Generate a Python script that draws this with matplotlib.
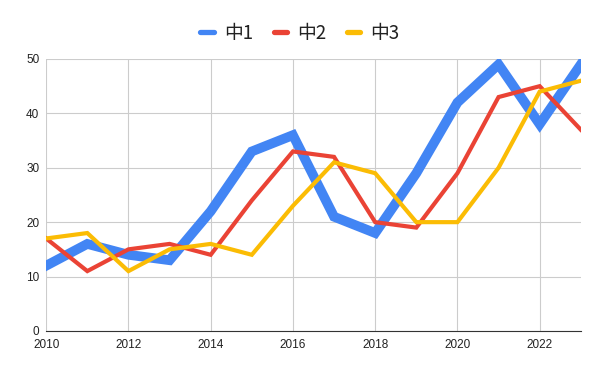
import matplotlib
matplotlib.use('Agg')
import matplotlib.pyplot as plt

plt.rcParams['font.family'] = ['Noto Sans CJK SC', 'DejaVu Sans']

years = list(range(2010, 2024))
s1 = [12, 16, 14, 13, 22, 33, 36, 21, 18, 29, 42, 49, 38, 49]
s2 = [17, 11, 15, 16, 14, 24, 33, 32, 20, 19, 29, 43, 45, 37]
s3 = [17, 18, 11, 15, 16, 14, 23, 31, 29, 20, 20, 30, 44, 46]
labels = ['中1', '中2', '中3']
colors = ['#4285F4', '#EA4335', '#FBBC04']
widths = [7, 3, 3]

fig = plt.figure(figsize=(6, 3.71), dpi=100)
ax = fig.add_axes([0.077, 0.108, 0.891, 0.733])

for ys, lab, c, w in zip([s1, s2, s3], labels, colors, widths):
    ax.plot(years, ys, color=c, lw=w, label=lab, solid_joinstyle='miter')

ax.set_xlim(2010, 2023)
ax.set_ylim(0, 50)
ax.set_xticks(range(2010, 2024, 2))
ax.set_yticks(range(0, 51, 10))
ax.grid(True, color='#cccccc', lw=0.8)
ax.set_axisbelow(True)
for s in ['top', 'right', 'left']:
    ax.spines[s].set_visible(False)
ax.spines['bottom'].set_color('#333333')
ax.tick_params(length=0, labelsize=8.5, colors='#222222')
ax.tick_params(axis='x', pad=6)
ax.tick_params(axis='y', pad=5)
for t in ax.get_xticklabels() + ax.get_yticklabels():
    t.set_family(['Liberation Sans', 'DejaVu Sans'])

leg = fig.legend(loc='center', bbox_to_anchor=(0.5, 0.91), ncol=3, frameon=False,
                 fontsize=13.5, handlelength=0.7, handletextpad=0.55, columnspacing=1.1)
for h in leg.get_lines():
    h.set_linewidth(3.8)
    h.set_solid_capstyle('round')
for t in leg.get_texts():
    t.set_fontweight('medium')
    t.set_color('#222222')

fig.savefig('out.png', dpi=100)
